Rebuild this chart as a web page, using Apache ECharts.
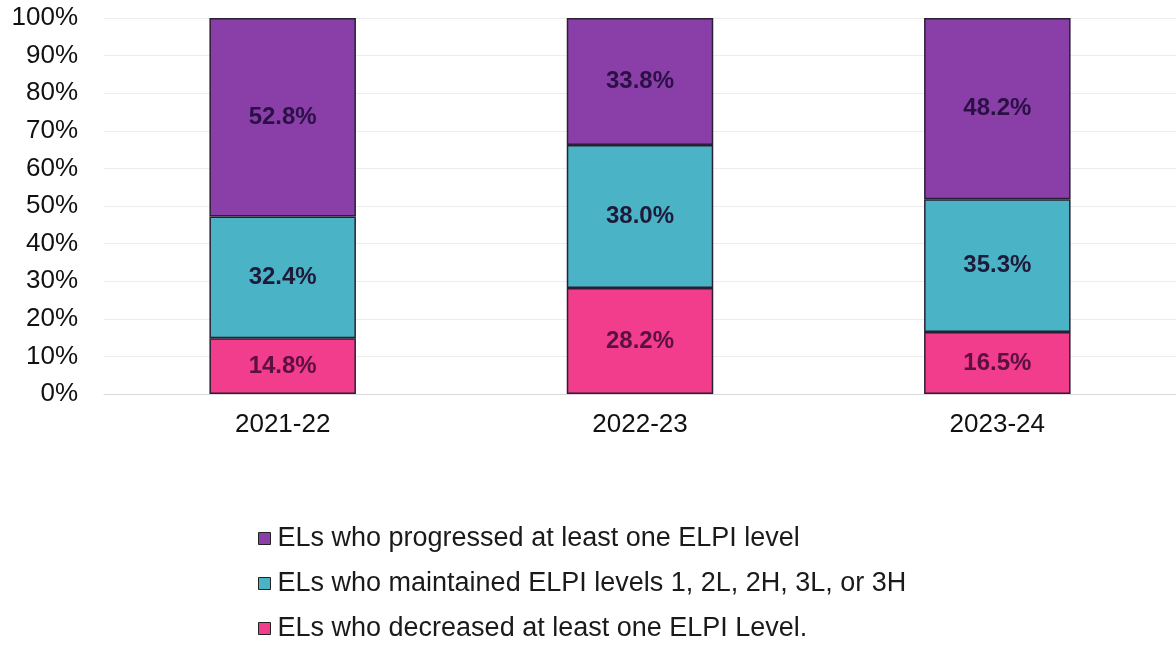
<!DOCTYPE html>
<html><head><meta charset="utf-8">
<script src="https://cdn.jsdelivr.net/npm/echarts@6/dist/echarts.min.js"></script>
<style>html,body{margin:0;padding:0;background:#fff}#c{width:1176px;height:647px}</style>
</head><body><div id="c"></div>
<script>
const categories = ['2021-22', '2022-23', '2023-24'];
const decreased = [14.8, 28.2, 16.5];
const maintained = [32.4, 38.0, 35.3];
const progressed = [52.8, 33.8, 48.2];
const seriesNames = [
  'ELs who progressed at least one ELPI level',
  'ELs who maintained ELPI levels 1, 2L, 2H, 3L, or 3H',
  'ELs who decreased at least one ELPI Level.'
];
const chart = echarts.init(document.getElementById('c'));
const font = 'Liberation Sans, Arial, sans-serif';
const lbl = {show: true, position: 'inside', fontSize: 24, fontWeight: 'bold', fontFamily: font, color: '#1f1a3a',
  formatter: p => p.value.toFixed(1) + '%'};
const border = {borderColor: '#2a1f33', borderWidth: 1.5};
chart.setOption({
  animation: false,
  grid: {left: 104, right: -8, top: 18, bottom: 253},
  legend: {
    orient: 'vertical', left: 258, top: 525, width: 850, height: 140, padding: 0,
    itemGap: 18, itemWidth: 12, itemHeight: 12, itemStyle: {borderColor: '#222', borderWidth: 1},
    icon: 'rect',
    textStyle: {fontSize: 27, lineHeight: 27, fontFamily: font, color: '#1a1a1a', padding: [0, 0, 0, 2]},
    data: seriesNames
  },
  xAxis: {
    type: 'category', data: categories,
    axisLine: {lineStyle: {color: '#d9d9d9'}}, axisTick: {show: false},
    axisLabel: {fontSize: 26, fontFamily: font, color: '#111', margin: 18}
  },
  yAxis: {
    type: 'value', min: 0, max: 100, interval: 10,
    axisLabel: {fontSize: 26, fontFamily: font, color: '#111', formatter: '{value}%', margin: 26},
    splitLine: {lineStyle: {color: '#ececec'}},
    axisLine: {show: false}, axisTick: {show: false}
  },
  series: [
    {name: seriesNames[2], type: 'bar', stack: 's', data: decreased, barWidth: '41%',
     itemStyle: Object.assign({color: '#f23c8c'}, border), label: Object.assign({}, lbl, {color: '#5a1040'})},
    {name: seriesNames[1], type: 'bar', stack: 's', data: maintained,
     itemStyle: Object.assign({color: '#4ab3c6'}, border), label: lbl},
    {name: seriesNames[0], type: 'bar', stack: 's', data: progressed,
     itemStyle: Object.assign({color: '#8a3fa8'}, border), label: Object.assign({}, lbl, {color: '#2a1045'})}
  ]
});
</script></body></html>
